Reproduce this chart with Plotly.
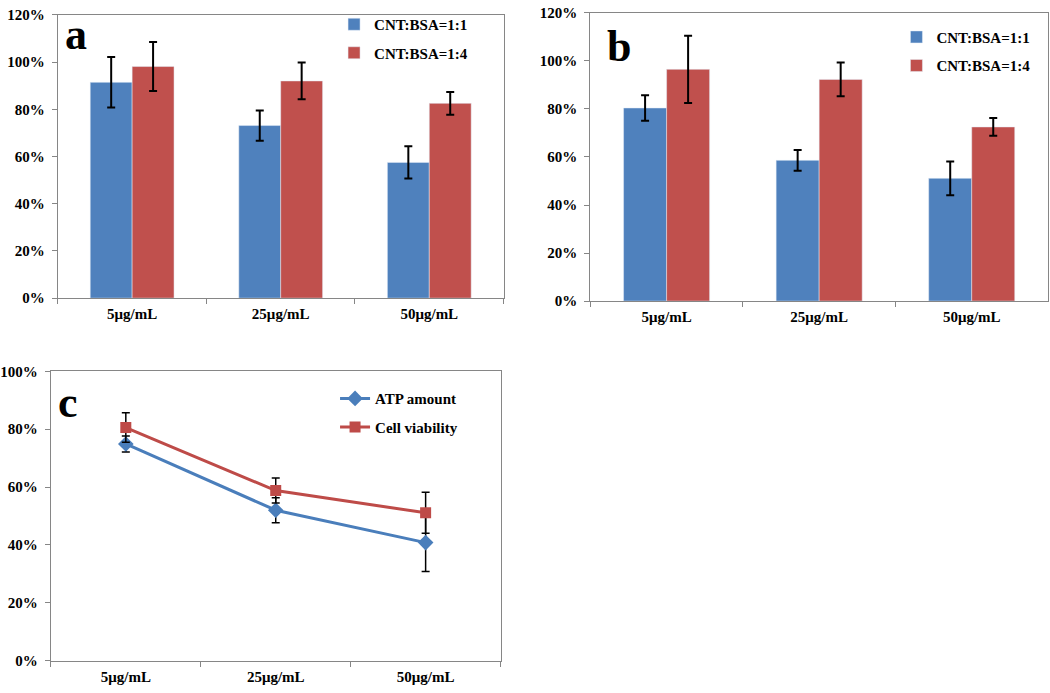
import plotly.graph_objects as go

categories = ["5μg/mL", "25μg/mL", "50μg/mL"]

# Panel a
a_11 = [91.4, 73.1, 57.5]
a_11_err = [10.7, 6.4, 6.8]
a_14 = [98.1, 92.0, 82.5]
a_14_err = [10.4, 7.8, 4.8]

# Panel b
b_11 = [80.4, 58.6, 51.1]
b_11_err = [5.3, 4.3, 7.0]
b_14 = [96.5, 92.3, 72.5]
b_14_err = [14.0, 7.0, 3.7]

# Panel c
atp = [74.9, 52.0, 40.8]
atp_err = [2.8, 4.3, 10.0]
viab = [80.6, 58.8, 51.1]
viab_err = [5.1, 4.3, 7.1]

BLUE = "#4F81BD"
RED = "#C0504D"
FONT = "Liberation Serif"
W, H = 1050, 693

def px(x):
    return x / W

def py(y):
    return 1 - y / H

fig = go.Figure()

def err(vals):
    return dict(type="data", array=vals, visible=True, color="black", thickness=2, width=4)

# Panel a bars
fig.add_trace(go.Bar(x=categories, y=a_11, error_y=err(a_11_err), marker_color=BLUE,
                     name="CNT:BSA=1:1", xaxis="x", yaxis="y", legend="legend", legendgroup="a1"))
fig.add_trace(go.Bar(x=categories, y=a_14, error_y=err(a_14_err), marker_color=RED,
                     name="CNT:BSA=1:4", xaxis="x", yaxis="y", legend="legend", legendgroup="a2"))
# Panel b bars
fig.add_trace(go.Bar(x=categories, y=b_11, error_y=err(b_11_err), marker_color=BLUE,
                     name="CNT:BSA=1:1", xaxis="x2", yaxis="y2", legend="legend2", legendgroup="b1"))
fig.add_trace(go.Bar(x=categories, y=b_14, error_y=err(b_14_err), marker_color=RED,
                     name="CNT:BSA=1:4", xaxis="x2", yaxis="y2", legend="legend2", legendgroup="b2"))
# Panel c lines
fig.add_trace(go.Scatter(x=categories, y=atp, error_y=dict(type="data", array=atp_err, visible=True,
                         color="black", thickness=1.5, width=4),
                         mode="lines+markers", line=dict(color="#4A7EBB", width=3),
                         marker=dict(symbol="diamond", size=12, color="#4A7EBB"),
                         name="ATP amount", xaxis="x3", yaxis="y3", legend="legend3", legendgroup="c1"))
fig.add_trace(go.Scatter(x=categories, y=viab, error_y=dict(type="data", array=viab_err, visible=True,
                         color="black", thickness=1.5, width=4),
                         mode="lines+markers", line=dict(color="#BE4B48", width=3),
                         marker=dict(symbol="square", size=11, color="#BE4B48"),
                         name="Cell viability", xaxis="x3", yaxis="y3", legend="legend3", legendgroup="c2"))

tickfont = dict(family=FONT, size=15, color="black", weight="bold")

def xax(domain, anchor):
    return dict(domain=domain, anchor=anchor, type="category", showline=True, linecolor="#868686",
                linewidth=1, mirror=True, ticks="outside", tickson="boundaries", ticklen=5,
                tickcolor="#868686", showgrid=False, tickfont=tickfont, zeroline=False,
                range=[-0.5, 2.5], ticklabelstandoff=2)

def yax(domain, anchor, rng, dtick):
    return dict(domain=domain, anchor=anchor, range=rng, dtick=dtick, showline=True,
                linecolor="#868686", linewidth=1, mirror=True, ticks="outside", ticklen=5,
                tickcolor="#868686", showgrid=False, tickfont=tickfont, ticksuffix="%",
                zeroline=False, ticklabelstandoff=4)

legfont = dict(family=FONT, size=15, color="black", weight="bold")

fig.update_layout(
    width=W, height=H,
    margin=dict(l=0, r=0, t=0, b=0),
    paper_bgcolor="white", plot_bgcolor="white",
    barmode="group", bargap=0.436, bargroupgap=0,
    xaxis=xax([px(55), px(502)], "y"),
    yaxis=yax([py(297), py(7)], "x", [0, 120], 20),
    xaxis2=xax([px(589), px(1048)], "y2"),
    yaxis2=yax([py(300), py(5)], "x2", [0, 120], 20),
    xaxis3=xax([px(48), px(499)], "y3"),
    yaxis3=yax([py(668), py(372)], "x3", [0, 100], 20),
    legend=dict(x=px(332), y=py(0), xanchor="left", yanchor="top", font=legfont,
                tracegroupgap=6, bgcolor="rgba(0,0,0,0)"),
    legend2=dict(x=px(896), y=py(13), xanchor="left", yanchor="top", font=legfont,
                 tracegroupgap=6, bgcolor="rgba(0,0,0,0)"),
    legend3=dict(x=px(333), y=py(383), xanchor="left", yanchor="top", font=legfont,
                 tracegroupgap=6, bgcolor="rgba(0,0,0,0)"),
    showlegend=True,
)

for txt, x, y in [("a", 73, 0), ("b", 618, 12), ("c", 65, 377)]:
    fig.add_annotation(text=txt, x=px(x), y=py(y), xref="paper", yref="paper",
                       xanchor="center", yanchor="top", showarrow=False,
                       font=dict(family=FONT, size=44, color="black", weight="bold"))

fig.write_html("out.html", config={"displayModeBar": False},
               post_script="document.body.style.margin='0';")
